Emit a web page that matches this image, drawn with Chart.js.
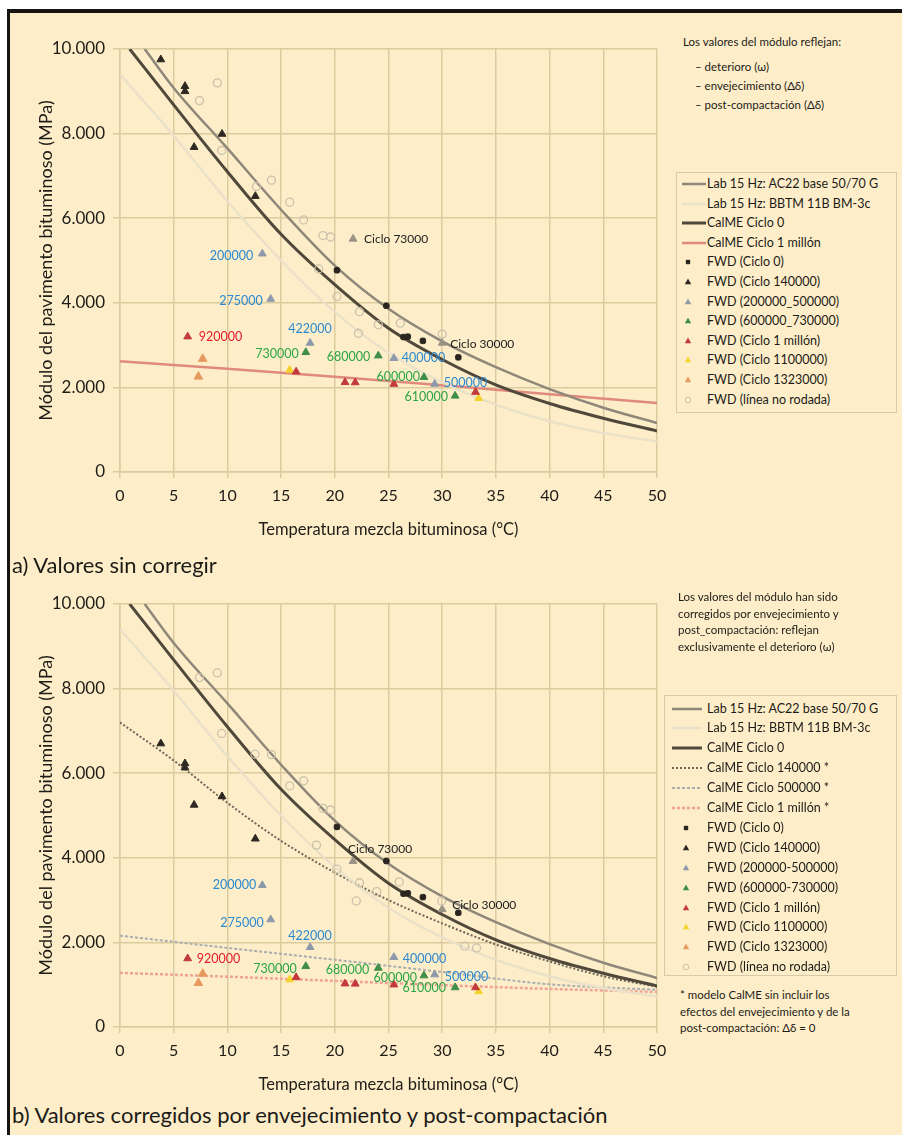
<!DOCTYPE html>
<html><head><meta charset="utf-8">
<script src="https://cdn.jsdelivr.net/npm/chart.js@4.4.1/dist/chart.umd.min.js"></script>
<style>
body{margin:0;background:#fff;}
#page{position:relative;width:902px;height:1135px;background:#fff;overflow:hidden;font-family:Lato,'DejaVu Sans',sans-serif;color:#1d1b18;}
#cream{position:absolute;left:7px;top:9px;right:0;bottom:0;background:#fdeec9;}
.bt{position:absolute;left:7px;top:9px;width:895px;height:4px;background:#161310;}
.bl{position:absolute;left:7px;top:9px;width:3px;height:1126px;background:#161310;}
canvas{position:absolute;}
.txt{position:absolute;white-space:nowrap;}
.legbox{position:absolute;border:1.5px solid #d6caa9;box-sizing:border-box;}
.li{position:absolute;white-space:nowrap;font-size:12.5px;line-height:16px;}
.li svg{position:absolute;top:0;}
</style></head>
<body><div id="page"><div id="cream"></div><div class="bt"></div><div class="bl"></div>
<canvas id="cA" width="680" height="545" style="left:0;top:0;width:680px;height:545px"></canvas>
<canvas id="cB" width="680" height="545" style="left:0;top:555px;width:680px;height:545px"></canvas>
<div class="txt" style="left:683px;top:35px;font-size:11.5px">Los valores del módulo reflejan:</div>
<div class="txt" style="left:695px;top:60px;font-size:11.5px">– deterioro (ω)</div>
<div class="txt" style="left:695px;top:79px;font-size:11.5px">– envejecimiento (Δδ)</div>
<div class="txt" style="left:695px;top:98px;font-size:11.5px">– post-compactación (Δδ)</div>
<div class="txt" style="left:678px;top:589px;font-size:11.5px;line-height:16.7px">Los valores del módulo han sido<br>corregidos por envejecimiento y<br>post_compactación: reflejan<br>exclusivamente el deterioro (ω)</div>
<div class="txt" style="left:680px;top:987px;font-size:11.5px;line-height:16.7px">* modelo CalME sin incluir los<br>efectos del envejecimiento y de la<br>post-compactación: Δδ = 0</div>
<div class="txt" style="left:12px;top:551px;font-size:22px;line-height:28px">a) Valores sin corregir</div>
<div class="txt" style="left:12px;top:1101px;font-size:22px;line-height:28px">b) Valores corregidos por envejecimiento y post-compactación</div>
<div id="legA"></div><div id="legB"></div>
</div>
<script>
// ---------- curves (temperature °C, modulus MPa) ----------
const labAcT   = [2.3, 5, 10, 15, 20, 25, 30, 35, 40, 45, 50];
const labAcV   = [10000, 9080, 7650, 6200, 4880, 3860, 3090, 2480, 1960, 1520, 1160];
const labBbT   = [0, 5, 10, 15, 20, 25, 30, 35, 40, 45, 50];
const labBbV   = [9400, 7950, 6400, 5000, 3780, 2820, 2120, 1590, 1200, 920, 720];
const calme0T  = [0.9, 5, 10, 15, 20, 25, 30, 35, 40, 45, 50];
const calme0V  = [10000, 8680, 7100, 5620, 4430, 3400, 2660, 2060, 1620, 1270, 970];
const calme1MT = [0, 10, 20, 30, 40, 50];
const calme1MV = [2620, 2440, 2250, 2050, 1840, 1630];
const c140sT   = [0, 5, 10, 15, 20, 25, 30, 35, 40, 45, 50];
const c140sV   = [7200, 6300, 5300, 4400, 3650, 3000, 2450, 1950, 1550, 1200, 950];
const c500sT   = [0, 10, 20, 30, 40, 50];
const c500sV   = [2160, 1870, 1590, 1300, 1010, 880];
const c1MsT    = [0, 10, 20, 30, 40, 50];
const c1MsV    = [1280, 1190, 1090, 990, 900, 830];

// ---------- FWD points ----------
const ciclo0T   = [20.2, 24.8, 26.4, 26.8, 28.2, 31.5];
const ciclo0VA  = [4770, 3930, 3190, 3200, 3100, 2710];
const ciclo0VB  = [4730, 3925, 3150, 3160, 3070, 2700];
const c140T     = [3.8, 6.05, 6.05, 6.9, 9.5, 12.6];
const c140VA    = [9750, 9120, 9000, 7680, 7990, 6520];
const c140VB    = [6700, 6230, 6130, 5250, 5450, 4450];
const blueT     = [13.25, 14.03, 17.7, 25.5, 29.3];
const blueVA    = [5160, 4090, 3050, 2690, 2080];
const blueVB    = [3350, 2540, 1885, 1650, 1240];
const blueLab   = ['200000', '275000', '422000', '400000', '500000'];
const greenT    = [17.3, 24.05, 28.3, 31.2];
const greenVA   = [2830, 2750, 2240, 1800];
const greenVB   = [1435, 1395, 1215, 935];
const greenLab  = ['730000', '680000', '600000', '610000'];
const redT      = [6.3, 16.4, 20.95, 21.9, 25.5, 33.1];
const redVA     = [3200, 2370, 2120, 2115, 2080, 1890];
const redVB     = [1620, 1175, 1025, 1020, 1000, 935];
const redLab    = ['920000', '', '', '', '', ''];
const yellowT   = [15.8, 33.4];
const yellowVA  = [2410, 1745];
const yellowVB  = [1120, 840];
const orangeT   = [7.7, 7.3];
const orangeVA  = [2675, 2255];
const orangeVB  = [1260, 1040];
const openTA    = [7.4, 9.06, 9.47, 12.7, 14.1, 15.8, 17.1, 18.5, 18.9, 19.6, 20.2, 22.2, 22.3, 24.05, 26.1, 30.0];
const openVA    = [8780, 9200, 7600, 6750, 6900, 6380, 5960, 4800, 5590, 5555, 4150, 3280, 3790, 3480, 3520, 3260];
const openTB    = [7.4, 9.06, 9.47, 12.57, 14.1, 15.8, 17.1, 18.9, 19.6, 18.3, 20.2, 22.0, 22.3, 23.9, 26.0, 29.95, 32.1, 33.2];
const openVB    = [8260, 8370, 6940, 6450, 6440, 5700, 5820, 5170, 5130, 4300, 3730, 2980, 3410, 3200, 3430, 2980, 1910, 1870];
const cicloT    = [21.7, 30.0];
const cicloVA   = [5510, 3050];
const cicloVB   = [3920, 2780];
const cicloLab  = ['Ciclo 73000', 'Ciclo 30000'];

// ---------- axes ----------
const xTicks = [0, 5, 10, 15, 20, 25, 30, 35, 40, 45, 50];
const yTicks = [0, 2000, 4000, 6000, 8000, 10000];
const yTickLabels = ['0', '2.000', '4.000', '6.000', '8.000', '10.000'];

// label placement (style only)
const placeA = {
  '200000':{a:'right',dx:-9,dy:2}, '275000':{a:'right',dx:-8,dy:2}, '422000':{a:'center',dx:0,dy:-14},
  '400000':{a:'left',dx:8,dy:0}, '500000':{a:'left',dx:9,dy:-1}, '730000':{a:'right',dx:-7,dy:2},
  '680000':{a:'right',dx:-8,dy:1}, '600000':{a:'right',dx:-4,dy:0}, '610000':{a:'right',dx:-7,dy:1},
  '920000':{a:'left',dx:11,dy:0}, 'Ciclo 73000':{a:'left',dx:11,dy:0}, 'Ciclo 30000':{a:'left',dx:8,dy:1}
};
const placeB = {
  '200000':{a:'right',dx:-6,dy:0}, '275000':{a:'right',dx:-7,dy:3}, '422000':{a:'center',dx:0,dy:-11},
  '400000':{a:'left',dx:9,dy:2}, '500000':{a:'left',dx:10,dy:2}, '730000':{a:'right',dx:-9,dy:3},
  '680000':{a:'right',dx:-9,dy:2}, '600000':{a:'right',dx:-7,dy:2}, '610000':{a:'right',dx:-9,dy:1},
  '920000':{a:'left',dx:9,dy:0}, 'Ciclo 73000':{a:'left',dx:-5,dy:-12}, 'Ciclo 30000':{a:'left',dx:10,dy:-4}
};

const COL = {
  labAc:'#8e877a', labBb:'#ebe1c8', calme0:'#4f483b', calme1M:'#e08a7e',
  c140s:'#6e6658', c500s:'#a9adb0', c1Ms:'#efa398',
  dot:'#2a251f', tri140:'#2d2822', blue:'#8d99ab', green:'#3f8e49', red:'#c23a3b',
  yellow:'#f3d22a', orange:'#e69a60', open:'#cbc1ab', ciclo:'#9a9385',
  lblBlue:'#2b89cf', lblGreen:'#29a545', lblRed:'#e61b2e', lblBlack:'#222'
};

function pts(T, V){ return T.map((t,i)=>({x:t, y:V[i]})); }
function curve(label, T, V, color, w, dash){
  return {label, data:pts(T,V), showLine:true, borderColor:color, backgroundColor:color, borderWidth:w,
    borderDash:dash||[], pointRadius:0, pointHoverRadius:0, cubicInterpolationMode:'monotone', order:2, lg:'line'};
}
function marks(label, T, V, style, color, r, opts){
  return Object.assign({label, data:pts(T,V), showLine:false, pointStyle:style, pointRadius:r,
    backgroundColor:color, borderColor:color, borderWidth:1, order:1, lg:'mark'}, opts||{});
}

function datasetsA(){
  return [
    curve('Lab 15 Hz: AC22 base 50/70 G', labAcT, labAcV, COL.labAc, 2.5),
    curve('Lab 15 Hz: BBTM 11B BM-3c', labBbT, labBbV, COL.labBb, 2.5),
    curve('CalME Ciclo 0', calme0T, calme0V, COL.calme0, 3),
    curve('CalME Ciclo 1 millón', calme1MT, calme1MV, COL.calme1M, 2.5),
    marks('FWD (Ciclo 0)', ciclo0T, ciclo0VA, 'rectRounded', COL.dot, 3.2),
    marks('FWD (Ciclo 140000)', c140T, c140VA, 'triangle', COL.tri140, 4.5),
    marks('FWD (200000_500000)', blueT, blueVA, 'triangle', COL.blue, 4.5, {pl:blueLab, lc:COL.lblBlue}),
    marks('FWD (600000_730000)', greenT, greenVA, 'triangle', COL.green, 4.5, {pl:greenLab, lc:COL.lblGreen}),
    marks('FWD (Ciclo 1 millón)', redT, redVA, 'triangle', COL.red, 4.5, {pl:redLab, lc:COL.lblRed}),
    marks('FWD (Ciclo 1100000)', yellowT, yellowVA, 'triangle', COL.yellow, 4.5),
    marks('FWD (Ciclo 1323000)', orangeT, orangeVA, 'triangle', COL.orange, 5),
    marks('FWD (línea no rodada)', openTA, openVA, 'circle', 'rgba(0,0,0,0)', 4, {borderColor:COL.open, borderWidth:1.3}),
    marks('ciclo', cicloT, cicloVA, 'triangle', COL.ciclo, 4.5, {pl:cicloLab, lc:COL.lblBlack, hideLegend:true})
  ];
}
function datasetsB(){
  return [
    curve('Lab 15 Hz: AC22 base 50/70 G', labAcT, labAcV, COL.labAc, 2.5),
    curve('Lab 15 Hz: BBTM 11B BM-3c', labBbT, labBbV, COL.labBb, 2.5),
    curve('CalME Ciclo 0', calme0T, calme0V, COL.calme0, 3),
    curve('CalME Ciclo 140000 *', c140sT, c140sV, COL.c140s, 2, [2,2]),
    curve('CalME Ciclo 500000 *', c500sT, c500sV, COL.c500s, 2, [3,2]),
    curve('CalME Ciclo 1 millón *', c1MsT, c1MsV, COL.c1Ms, 2.5, [3,2]),
    marks('FWD (Ciclo 0)', ciclo0T, ciclo0VB, 'rectRounded', COL.dot, 3.2),
    marks('FWD (Ciclo 140000)', c140T, c140VB, 'triangle', COL.tri140, 4.5),
    marks('FWD (200000-500000)', blueT, blueVB, 'triangle', COL.blue, 4.5, {pl:blueLab, lc:COL.lblBlue}),
    marks('FWD (600000-730000)', greenT, greenVB, 'triangle', COL.green, 4.5, {pl:greenLab, lc:COL.lblGreen}),
    marks('FWD (Ciclo 1 millón)', redT, redVB, 'triangle', COL.red, 4.5, {pl:redLab, lc:COL.lblRed}),
    marks('FWD (Ciclo 1100000)', yellowT, yellowVB, 'triangle', COL.yellow, 4.5),
    marks('FWD (Ciclo 1323000)', orangeT, orangeVB, 'triangle', COL.orange, 5),
    marks('FWD (línea no rodada)', openTB, openVB, 'circle', 'rgba(0,0,0,0)', 4, {borderColor:COL.open, borderWidth:1.3}),
    marks('ciclo', cicloT, cicloVB, 'triangle', COL.ciclo, 4.5, {pl:cicloLab, lc:COL.lblBlack, hideLegend:true})
  ];
}

const labelPlugin = {
  id:'ptlabels',
  afterDatasetsDraw(chart, args, opts){
    const ctx = chart.ctx;
    chart.data.datasets.forEach((ds, i)=>{
      if(!ds.pl) return;
      const meta = chart.getDatasetMeta(i);
      ds.pl.forEach((txt, j)=>{
        if(!txt) return;
        const el = meta.data[j]; const p = opts.place[txt];
        ctx.save();
        ctx.font = (txt.startsWith('Ciclo') ? '12px' : '12.5px') + ' Lato';
        ctx.fillStyle = ds.lc; ctx.textAlign = p.a; ctx.textBaseline = 'middle';
        ctx.fillText(txt, el.x + p.dx, el.y + p.dy);
        ctx.restore();
      });
    });
  }
};

const GRID = '#dccb9e';
function makeChart(id, datasets, place){
  return new Chart(document.getElementById(id), {
    type:'scatter',
    data:{datasets},
    plugins:[labelPlugin],
    options:{
      responsive:false, animation:false, events:[],
      layout:{padding:{top:49, right:23, left:0, bottom:0}},
      plugins:{legend:{display:false}, tooltip:{enabled:false}, ptlabels:{place}},
      scales:{
        x:{type:'linear', min:0, max:50,
          afterBuildTicks:s=>{ s.ticks = xTicks.map(v=>({value:v})); },
          afterFit:s=>{ s.height = 73; },
          ticks:{color:'#1f1c18', font:{size:16, family:'Lato'}, padding:8, maxRotation:0},
          grid:{color:GRID, lineWidth:1.5, tickLength:6},
          border:{color:GRID, width:1.5},
          title:{display:true, text:'Temperatura mezcla bituminosa (°C)', color:'#1f1c18', font:{size:16.5, family:'Lato'}, padding:{top:0,bottom:5}}
        },
        y:{type:'linear', min:0, max:10000,
          afterBuildTicks:s=>{ s.ticks = yTicks.map(v=>({value:v})); },
          afterFit:s=>{ s.width = 120; },
          ticks:{color:'#1f1c18', font:{size:17, family:'Lato'}, padding:8,
            callback:(v)=> yTickLabels[yTicks.indexOf(v)]},
          grid:{color:GRID, lineWidth:1.5, tickLength:7},
          border:{color:GRID, width:1.5},
          title:{display:true, text:'Módulo del pavimento bituminoso (MPa)', color:'#1f1c18', font:{size:18, family:'Lato'}, padding:{top:35,bottom:0}}
        }
      }
    }
  });
}

function legendHTML(host, chart, cfg){
  const box = document.createElement('div');
  box.className = 'legbox';
  Object.assign(box.style, {left:cfg.left+'px', top:cfg.top+'px', width:cfg.w+'px', height:cfg.h+'px'});
  host.parentNode.appendChild(box);
  let k = 0;
  chart.data.datasets.forEach(ds=>{
    if(ds.hideLegend) return;
    const y = cfg.first + k*cfg.step; k++;
    const item = document.createElement('div');
    item.className = 'li';
    item.style.left = cfg.textX + 'px'; item.style.top = (y-8)+'px';
    item.textContent = ds.label;
    let svg = '';
    if(ds.lg === 'line'){
      const x1 = cfg.lineX1 - cfg.textX, x2 = cfg.lineX2 - cfg.textX;
      svg = `<svg width="40" height="16" style="left:${x1}px;overflow:visible"><line x1="0" y1="8" x2="${x2-x1}" y2="8" stroke="${ds.borderColor}" stroke-width="${ds.borderWidth}" stroke-dasharray="${ds.borderDash.join(',')}"/></svg>`;
    } else {
      const cx = cfg.markX - cfg.textX;
      let shape;
      if(ds.pointStyle === 'triangle') shape = `<polygon points="0,-3.6 3.2,2.2 -3.2,2.2" fill="${ds.backgroundColor}"/>`;
      else if(ds.pointStyle === 'circle') shape = `<circle r="2.8" fill="none" stroke="${ds.borderColor}" stroke-width="1"/>`;
      else shape = `<rect x="-2.2" y="-2.2" width="4.4" height="4.4" rx="1" fill="${ds.backgroundColor}"/>`;
      svg = `<svg width="12" height="16" style="left:${cx-6}px;overflow:visible"><g transform="translate(6,8)">${shape}</g></svg>`;
    }
    item.insertAdjacentHTML('afterbegin', svg);
    host.appendChild(item);
  });
}

function build(){
  const a = makeChart('cA', datasetsA(), placeA);
  const b = makeChart('cB', datasetsB(), placeB);
  legendHTML(document.getElementById('legA'), a, {left:676, top:172, w:221, h:241, first:184, step:19.6, textX:707, lineX1:682, lineX2:706, markX:688});
  legendHTML(document.getElementById('legB'), b, {left:664, top:695, w:233, h:281, first:708.5, step:19.9, textX:707, lineX1:672, lineX2:702, markX:686});
}
if(document.fonts && document.fonts.load){
  Promise.all([document.fonts.load('16px Lato'), document.fonts.load('12px Lato')]).then(build, build);
} else build();
</script>
</body></html>
